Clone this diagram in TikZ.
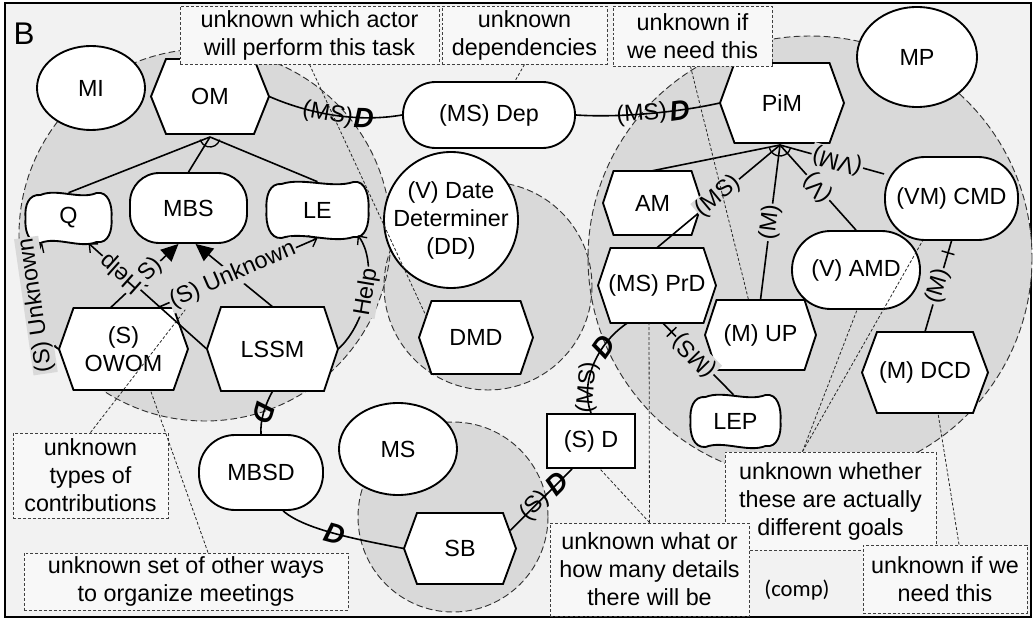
\documentclass[tikz,border=0pt]{standalone}
\usepackage{fontspec}
\setmainfont{Liberation Sans}
\newfontfamily\compfont{Carlito}
\usetikzlibrary{arrows.meta,calc,decorations.markings,shapes.geometric}

\definecolor{pagebg}{HTML}{F2F2F2}
\definecolor{bound}{HTML}{D9D9D9}
\definecolor{notebg}{HTML}{F8F8F8}

\newcommand{\pxl}[1]{#1*0.75pt}

\tikzset{
  every node/.style={font=\fontsize{17.5}{21}\selectfont},
  nodeline/.style={draw=black, line width=1.4pt, fill=white},
  plain/.style={rectangle, inner sep=0pt, align=center},
  actor/.style={nodeline, ellipse, inner sep=0pt, align=center},
  goal/.style={nodeline, rectangle, inner sep=0pt, align=center},
  resource/.style={nodeline, rectangle, inner sep=0pt},
  boundfill/.style={fill=bound},
  boundline/.style={draw=black!80, line width=0.7pt, dash pattern=on 5pt off 2.5pt},
  note/.style={draw=black!75, fill=notebg, line width=0.7pt, dash pattern=on 2.2pt off 1.5pt, align=center, inner sep=0pt},
  leader/.style={draw=black!85, line width=0.6pt, dash pattern=on 2.2pt off 1.5pt},
  link/.style={line width=1.2pt},
  lbl/.style={sloped, allow upside down, fill=bound, inner sep=1pt},
  dlbl/.style={sloped, allow upside down, inner sep=0pt},
  dmark/.style={sloped, allow upside down, inner sep=0pt, font=\fontsize{21}{24}\selectfont\bfseries\itshape},
  openhead/.style={-{Straight Barb[length=5pt,width=9pt,line width=1pt]}},
  solidhead/.style={-{Triangle[length=13pt,width=12pt]}},
  tickat/.style={postaction={decorate, decoration={markings, mark=at position #1 with {\draw[line width=1.1pt] (0pt,-5pt) -- (0pt,5pt);}}}},
  junction/.style={line width=1pt},
}

% hexagonal task: name, cx, cy, width, height, slant, text
\newcommand{\hexa}[7]{%
  \path[nodeline] ({#2-#4/2},#3) -- ({#2-#4/2+#6},{#3-#5/2}) -- ({#2+#4/2-#6},{#3-#5/2})
    -- ({#2+#4/2},#3) -- ({#2+#4/2-#6},{#3+#5/2}) -- ({#2-#4/2+#6},{#3+#5/2}) -- cycle;
  \node[plain, minimum width=\pxl{#4}, minimum height=\pxl{#5}] (#1) at (#2,#3) {#7};}

% softgoal with wavy top and bottom and bulging sides: name, cx, cy, width, height, text
\newcommand{\softgoal}[6]{%
  \path[nodeline] ({#2-#4/2+12},{#3-#5/2+2})
    .. controls ({#2-#4/2+0.35*#4},{#3-#5/2-5}) and ({#2-#4/2+0.65*#4},{#3-#5/2+7}) .. ({#2+#4/2-12},{#3-#5/2})
    .. controls ({#2+#4/2},{#3-#5/2-2}) and ({#2+#4/2+4},{#3-#5/2+0.25*#5}) .. ({#2+#4/2+3},#3)
    .. controls ({#2+#4/2+4},{#3+#5/2-0.25*#5}) and ({#2+#4/2},{#3+#5/2+1}) .. ({#2+#4/2-12},{#3+#5/2-1})
    .. controls ({#2+#4/2-0.35*#4},{#3+#5/2+6}) and ({#2+#4/2-0.65*#4},{#3+#5/2-7}) .. ({#2-#4/2+12},{#3+#5/2})
    .. controls ({#2-#4/2},{#3+#5/2+1}) and ({#2-#4/2-4},{#3+#5/2-0.25*#5}) .. ({#2-#4/2-3},#3)
    .. controls ({#2-#4/2-4},{#3-#5/2+0.25*#5}) and ({#2-#4/2},{#3-#5/2+1}) .. cycle;
  \node[plain, minimum width=\pxl{#4}, minimum height=\pxl{#5}] (#1) at (#2,#3) {#6};}

\begin{document}
\begin{tikzpicture}[x=0.75pt, y=-0.75pt]
\useasboundingbox (0,0) rectangle (1034,620);
\draw[line width=1.5pt, fill=pagebg] (5,3) rectangle (1031,617);

% actor boundaries
\path[boundfill] (205,235) circle [radius=186];
\path[boundfill] (488,286) circle [radius=104];
\path[boundfill] (810,258) circle [radius=222];
\path[boundfill] (453,517) circle [radius=95];
\path[boundline] (205,235) circle [radius=186];
\path[boundline] (488,286) circle [radius=104];
\path[boundline] (810,258) circle [radius=222];
\path[boundline] (453,517) circle [radius=95];

% actors
\node[actor, minimum width=\pxl{108}, minimum height=\pxl{84}] (MI) at (91,88) {MI};
\node[actor, minimum width=\pxl{120}, minimum height=\pxl{100}] (MP) at (917,57) {MP};
\node[actor, minimum width=\pxl{118}, minimum height=\pxl{92}] (MS) at (398,449) {MS};
\node[actor, inner sep=-10pt, minimum width=\pxl{134}, minimum height=\pxl{136}] (DD) at (451,220) {(V) Date\\Determiner\\(DD)};

% tasks
\hexa{OM}{210}{96.5}{118}{75}{15}{OM}
\hexa{OWOM}{123.5}{349}{129}{82}{14.5}{(S)\\OWOM}
\hexa{LSSM}{272.5}{349}{131}{84}{14}{LSSM}
\hexa{DMD}{476}{337.5}{114}{73}{12.5}{DMD}
\hexa{PiM}{782}{103}{124}{80}{14.5}{PiM}
\hexa{AM}{652.5}{203}{99}{64}{10.5}{AM}
\hexa{PrD}{657}{285.5}{118}{75}{12.5}{(MS) PrD}
\hexa{UP}{760.5}{335}{111}{70}{11.5}{(M) UP}
\hexa{DCD}{925}{372.5}{126}{81}{15}{(M) DCD}
\hexa{SB}{460}{548.5}{112}{71}{13}{SB}

% goals
\node[goal, minimum width=\pxl{117}, minimum height=\pxl{70}, rounded corners=22pt] (MBS) at (188.5,208) {MBS};
\node[goal, minimum width=\pxl{172}, minimum height=\pxl{66}, rounded corners=24.5pt] (Dep) at (489,115) {(MS) Dep};
\node[goal, minimum width=\pxl{128}, minimum height=\pxl{78}, rounded corners=29pt] (AMD) at (856,270) {(V) AMD};
\node[goal, minimum width=\pxl{133}, minimum height=\pxl{83}, rounded corners=30pt] (CMD) at (951.5,198.5) {(VM) CMD};
\node[goal, minimum width=\pxl{124}, minimum height=\pxl{75}, rounded corners=27pt] (MBSD) at (261,472.5) {MBSD};

% resource
\node[resource, minimum width=\pxl{88}, minimum height=\pxl{54}] (SD) at (591,441) {(S) D};

% softgoals
\softgoal{Q}{68.5}{218}{80}{50}{Q}
\softgoal{LE}{317.5}{210}{96}{56}{LE}
\softgoal{LEP}{735.5}{421}{84}{52}{LEP}

% decomposition of OM
\coordinate (J1) at (210,137);
\draw[link] (Q.north) -- (J1);
\draw[link] (MBS.north) -- (J1);
\draw[link] (LE.north) -- (J1);
\draw[junction] (J1) ++(15:10) arc[start angle=15, end angle=165, radius=10];

% decomposition of PiM
\coordinate (J2) at (780,145);
\draw[link] (AM.north) -- (J2);
\draw[link] (PrD.north) -- node[lbl, pos=0.5] {(MS)} (J2);
\draw[link] (UP.north) -- node[lbl, pos=0.5] {(M)} (J2);
\draw[link] (AMD.north) -- node[lbl, pos=0.5] {(V)} (J2);
\draw[link] (CMD.160) -- node[lbl, pos=0.45] {(VM)} (J2);
\draw[junction] (J2) ++(15:11) arc[start angle=15, end angle=165, radius=11];

% contributions inside MI
\draw[link, openhead] (OWOM.west) .. controls (30,335) and (30,265) .. ($(Q.south west)+(14,0)$)
  node[lbl, pos=0.45] {(S) Unknown};
\draw[link, solidhead] ($(OWOM.north)+(-13,0)$) -- node[lbl, pos=0.55] {(S)} ($(MBS.south)+(-10,0)$);
\draw[link, openhead] (LSSM.west) -- node[lbl, pos=0.72] {Help} ($(Q.south)+(20,0)$);
\draw[link, solidhead] (LSSM.north) -- ($(MBS.south)+(7,0)$);
\draw[link, openhead] ($(OWOM.north)+(34,0)$) -- node[lbl, pos=0.47] {(S) Unknown} (LE.south);
\draw[link, openhead] (LSSM.east) .. controls (368,322) and (378,262) .. ($(LE.south east)+(-8,-3)$)
  node[lbl, pos=0.5] {Help};

% dependencies
\draw[link] (OM.east) .. controls (300,110) and (350,124) .. (Dep.west)
  node[dlbl, pos=0.5] {(MS)} node[dmark, pos=0.75] {D};
\draw[link] (Dep.east) .. controls (620,118) and (680,112) .. (PiM.west)
  node[dlbl, pos=0.45] {(MS)} node[dmark, pos=0.7] {D};
\draw[link] (LSSM.south) .. controls (265,405) and (260,420) .. (MBSD.north)
  node[dmark, pos=0.5] {D};
\draw[link] (MBSD.-60) .. controls (305,530) and (360,540) .. (SB.west)
  node[dmark, pos=0.5] {D};
\draw[link] ($(SB.east)+(-6,-18)$) -- node[dlbl, pos=0.4] {(S)} node[dmark, pos=0.76] {D} ($(SD.south)+(-19,0)$);
\draw[link] (SD.north) .. controls (580,385) and (595,345) .. ($(PrD.south)+(-30,0)$)
  node[dlbl, pos=0.28] {(MS)} node[dmark, pos=0.7] {D};

% contributions inside MP
\draw[link, tickat=0.88] ($(LEP.north)+(-2,0)$) -- node[lbl, pos=0.55] {(MS)} ($(PrD.south)+(6,0)$);
\draw[link, tickat=0.87] (DCD.north) -- node[lbl, pos=0.5] {(M)} (CMD.south);

% notes and their leaders
\node[note, minimum width=\pxl{259}, minimum height=\pxl{58}] (N1) at (309.5,35) {unknown which actor\\will perform this task};
\node[note, minimum width=\pxl{165}, minimum height=\pxl{58}] (N2) at (524.5,35) {unknown\\dependencies};
\node[note, minimum width=\pxl{159}, minimum height=\pxl{60}] (N3) at (692.5,36) {unknown if\\we need this};
\node[note, minimum width=\pxl{155}, minimum height=\pxl{85}] (N4) at (90.5,475.5) {unknown\\types of\\contributions};
\node[note, minimum width=\pxl{324}, minimum height=\pxl{57}] (N5) at (186,581.5) {unknown set of other ways\\to organize meetings};
\node[note, minimum width=\pxl{211}, minimum height=\pxl{98}] (N7) at (830.5,501) {unknown whether\\these are actually\\different goals};
\node[note, minimum width=\pxl{199}, minimum height=\pxl{93}] (N6) at (649.5,569.5) {unknown what or\\how many details\\there will be};
\node[note, minimum width=\pxl{164}, minimum height=\pxl{68}] (N8) at (945,579) {unknown if we\\need this};

\draw[leader] (N1.south) -- ($(DMD.west)+(8,-20)$);
\draw[leader] (N2.south) -- ($(Dep.north)+(26,0)$);
\draw[leader] ($(N3.south)+(-2,0)$) -- ($(UP.north)+(-12,0)$);
\draw[leader] (N4.north) -- ($(OWOM.north east)+(-3,2)$);
\draw[leader] ($(N5.north)+(22,0)$) -- ($(OWOM.south)+(27,0)$);
\draw[leader] (N6.north) -- ($(PrD.south)+(-8,0)$);
\draw[leader] (N6.north) -- ($(SD.south)+(9,0)$);
\draw[leader] ($(N7.north)+(-28,0)$) -- ($(AMD.south)+(1,0)$);
\draw[leader] ($(N7.north)+(-28,0)$) -- ($(CMD.south)+(-29,0)$);
\draw[leader] ($(N8.north)+(14,0)$) -- ($(DCD.south)+(13,0)$);

% panel letter and footnote
\node[font=\fontsize{23.5}{28}\selectfont] (panel) at (24,34) {B};
\node[font=\compfont\fontsize{17}{20}\selectfont] (comp) at (797,590) {(comp)};
\end{tikzpicture}
\end{document}
